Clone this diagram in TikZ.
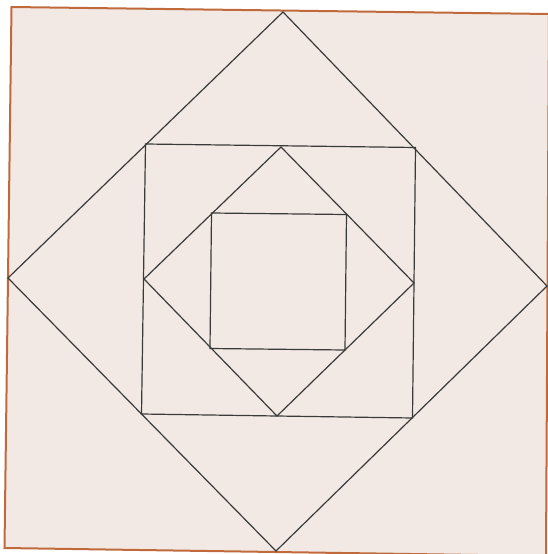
\documentclass[tikz,border=0pt]{standalone}
\definecolor{paper}{HTML}{F2E9E4}
\definecolor{rim}{HTML}{C06A3C}
\definecolor{ink}{HTML}{3A3A3A}
\tikzset{
  frame/.style={draw=rim, fill=paper, line width=2pt, line join=miter},
  figline/.style={draw=ink, line width=1.2pt, line join=miter}
}
\begin{document}
\begin{tikzpicture}[x=1pt,y=-1pt]
\useasboundingbox (0,0) rectangle (548,554);
\begin{scope}
\clip (0,0) rectangle (548,554);
% outer square
\path[frame] (11.5,7) -- (549,14) -- (546,556) -- (4.5,548) -- cycle;
% outer diamond
\path[figline] (283,12) -- (547,286) -- (276,551) -- (8,278) -- cycle;
% middle square
\path[figline] (145.5,144) -- (415.5,147.5) -- (412.5,418) -- (141.5,414) -- cycle;
% inner diamond
\path[figline] (281,147) -- (414,283) -- (277,416) -- (144,279) -- cycle;
% innermost square
\path[figline] (211.5,213) -- (346.5,214.5) -- (345,350) -- (210,348.5) -- cycle;
\end{scope}
\end{tikzpicture}
\end{document}
